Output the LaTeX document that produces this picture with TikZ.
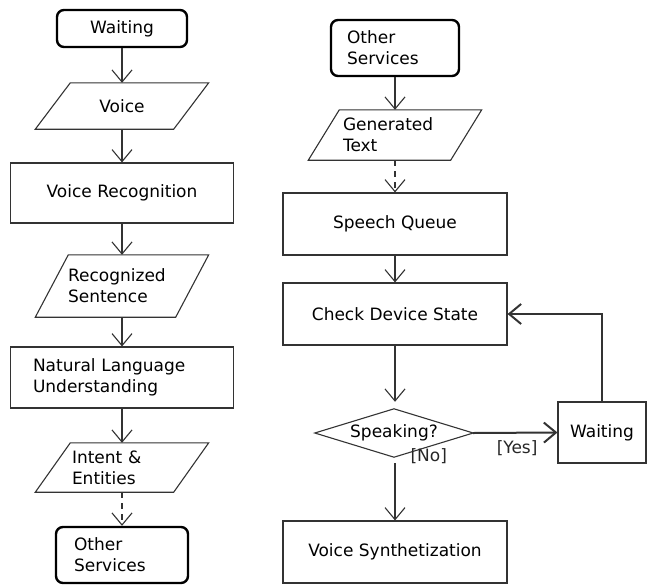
\documentclass[tikz,border=0pt]{standalone}
\usepackage{fontspec}
\setmainfont{DejaVu Sans}
\usetikzlibrary{arrows.meta}
\begin{document}
\begin{tikzpicture}[x=1pt,y=-1pt,
  font=\fontsize{17}{21}\selectfont,
  proc/.style={draw=black!80, line width=1.1pt, inner sep=0pt, align=center},
  term/.style={draw=black, line width=2.4pt, rounded corners=7pt, inner sep=0pt},
  datanode/.style={inner sep=0pt},
  shapeline/.style={draw=black!80, line width=1.1pt},
  flow/.style={draw=black!80, line width=1.1pt, -{Straight Barb[length=12pt,width=20pt]}},
  dflow/.style={flow, dash pattern=on 6pt off 5pt},
  loopflow/.style={flow, line width=2pt},
  lbl/.style={inner sep=0pt, text=black!85}
]
\useasboundingbox (0,0) rectangle (647,586);

% left column
\node[term, minimum width=130pt, minimum height=37pt] (w1) at (122,28.5) {Waiting};
\node[datanode, minimum width=173pt, minimum height=46pt] (voice) at (122,106) {Voice};
\node[proc, minimum width=223pt, minimum height=60pt] (vr) at (122,193) {Voice Recognition};
\node[datanode, minimum height=62pt, text width=108pt, inner xsep=32.5pt, align=left] (rs) at (122,286) {Recognized\\Sentence};
\node[proc, minimum height=61pt, text width=178pt, inner xsep=22.5pt, align=left] (nlu) at (122,377.5) {Natural Language\\Understanding};
\node[datanode, minimum height=49pt, text width=100pt, inner xsep=36.5pt, align=left] (ie) at (122,467.5) {Intent \&\\Entities};
\node[term, minimum height=56pt, text width=96pt, inner xsep=18pt, align=left] (os1) at (122,555) {Other\\Services};

% right column
\node[term, minimum height=56pt, text width=96pt, inner xsep=16pt, align=left] (os2) at (395,48) {Other\\Services};
\node[datanode, minimum height=50pt, text width=104pt, inner xsep=34.5pt, align=left] (gt) at (395,135) {Generated\\Text};
\node[proc, minimum width=224pt, minimum height=62pt] (sq) at (395,224) {Speech Queue};
\node[proc, minimum width=224pt, minimum height=62pt] (cds) at (395,314) {Check Device State};
\node[datanode, minimum width=158pt, minimum height=48pt] (d) at (394,433) {Speaking?};
\node[proc, minimum width=224pt, minimum height=62pt] (vs) at (395,552) {Voice Synthetization};
\node[proc, minimum width=88pt, minimum height=61pt] (wt) at (602,432.5) {Waiting};

% parallelograms and diamond outlines
\draw[shapeline] ([xshift=35pt]voice.north west) -- (voice.north east) -- ([xshift=-35pt]voice.south east) -- (voice.south west) -- cycle;
\draw[shapeline] ([xshift=33pt]rs.north west) -- (rs.north east) -- ([xshift=-33pt]rs.south east) -- (rs.south west) -- cycle;
\draw[shapeline] ([xshift=35pt]ie.north west) -- (ie.north east) -- ([xshift=-35pt]ie.south east) -- (ie.south west) -- cycle;
\draw[shapeline] ([xshift=31pt]gt.north west) -- (gt.north east) -- ([xshift=-31pt]gt.south east) -- (gt.south west) -- cycle;
\draw[shapeline] (d.north) -- (d.east) -- (d.south) -- (d.west) -- cycle;

% connectors left
\draw[flow] (w1.south) -- (voice.north);
\draw[flow] (voice.south) -- (vr.north);
\draw[flow] (vr.south) -- (rs.north);
\draw[flow] (rs.south) -- (nlu.north);
\draw[flow] (nlu.south) -- (ie.north);
\draw[dflow] (ie.south) -- (os1.north);

% connectors right
\draw[flow] (os2.south) -- (os2.south |- gt.north);
\draw[dflow] (gt.south -| sq.north) -- (sq.north);
\draw[flow] (sq.south) -- (cds.south |- sq.south) -- (cds.north);
\draw[flow, shorten >=7pt] (cds.south) -- (cds.south |- d.north);
\draw[flow, shorten <=6pt] (vs.north |- d.south) -- (vs.north)
  node[lbl, pos=0, anchor=west, xshift=15pt, yshift=1pt] {[No]};
\draw[loopflow] (d.east) -- (wt.west)
  node[lbl, pos=1, anchor=north east, xshift=-19pt, yshift=-7pt] {[Yes]};
\draw[loopflow] (wt.north) |- (cds.east);
\end{tikzpicture}
\end{document}
